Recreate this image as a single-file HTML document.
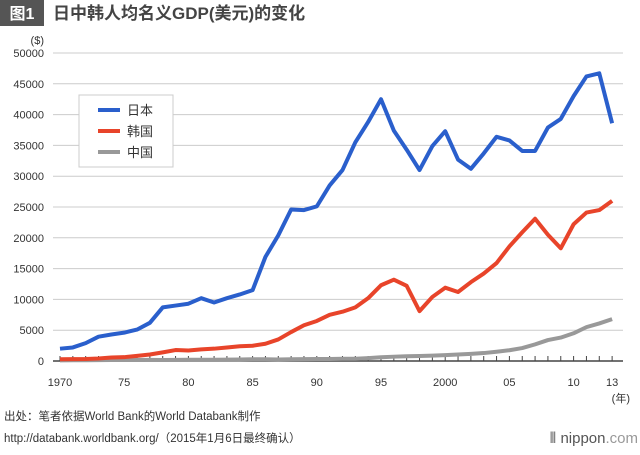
<!DOCTYPE html>
<html><head><meta charset="utf-8"><style>
body{margin:0;background:#fff;}
svg text{font-family:"Liberation Sans","Noto Sans CJK SC",sans-serif;}
</style></head><body>
<svg width="640" height="450" xmlns="http://www.w3.org/2000/svg">
<rect x="0" y="0" width="44" height="26" fill="#555"/>
<text x="22" y="19" font-size="16" fill="#fff" text-anchor="middle" font-weight="bold">图1</text>
<text x="53" y="19" font-size="17" fill="#444" font-weight="bold">日中韩人均名义GDP(美元)的变化</text>
<text x="44" y="44" font-size="11" fill="#333" text-anchor="end">($)</text>
<g id="grid"></g><g id="series"></g>
<rect x="79" y="95" width="94" height="72" fill="#fff" stroke="#ccc"/>
<line x1="98" y1="110" x2="120" y2="110" stroke="#2a5fcc" stroke-width="4"/>
<text x="127" y="115" font-size="13" fill="#333">日本</text>
<line x1="98" y1="131" x2="120" y2="131" stroke="#e8442a" stroke-width="4"/>
<text x="127" y="136" font-size="13" fill="#333">韩国</text>
<line x1="98" y1="152" x2="120" y2="152" stroke="#999" stroke-width="4"/>
<text x="127" y="157" font-size="13" fill="#333">中国</text>
<text x="630" y="402" font-size="11" fill="#333" text-anchor="end">(年)</text>
<text x="4" y="420" font-size="11.5" fill="#333">出处：笔者依据World Bank的World Databank制作</text>
<text x="4" y="442" font-size="11.5" fill="#333">http://databank.worldbank.org/（2015年1月6日最终确认）</text>
<text x="638" y="443" font-size="15" fill="#555" text-anchor="end">⦀ nippon<tspan fill="#999">.com</tspan></text>
</svg>
<script>
const years=[];for(let y=1970;y<=2013;y++)years.push(y);
const japan=[2000,2200,2900,3950,4300,4600,5100,6200,8700,9000,9300,10200,9500,10200,10800,11500,16900,20400,24600,24500,25100,28500,31000,35500,38800,42500,37400,34300,31000,34900,37300,32700,31200,33700,36400,35800,34100,34100,37900,39300,43000,46200,46700,38600];
const korea=[280,300,320,400,560,620,830,1050,1400,1780,1700,1880,2000,2200,2400,2480,2800,3500,4700,5800,6500,7500,8000,8700,10200,12300,13200,12200,8100,10400,11900,11200,12800,14200,15900,18600,20900,23100,20500,18300,22200,24100,24500,26000];
const china=[110,120,130,150,160,170,160,180,160,180,200,200,210,220,250,290,280,250,280,310,320,330,360,370,470,600,700,780,820,870,950,1050,1150,1290,1500,1750,2100,2700,3400,3800,4500,5500,6100,6800];
const yTicks=[0,5000,10000,15000,20000,25000,30000,35000,40000,45000,50000];
const xLabels=[[1970,"1970"],[1975,"75"],[1980,"80"],[1985,"85"],[1990,"90"],[1995,"95"],[2000,"2000"],[2005,"05"],[2010,"10"],[2013,"13"]];
const NS="http://www.w3.org/2000/svg";
const xs=y=>60+(y-1970)*12.84;
const ys=v=>361-v*308/50000;
const g=document.getElementById('grid'),s=document.getElementById('series');
function mk(tag,at,p){const e=document.createElementNS(NS,tag);for(const k in at)e.setAttribute(k,at[k]);p.appendChild(e);return e;}
yTicks.forEach(v=>{
  const l=mk('line',{x1:53,x2:623,y1:ys(v),y2:ys(v),stroke:v===0?'#444':'#ccc','stroke-width':v===0?1.5:1},g);
  
  
  const t=mk('text',{x:44,y:ys(v)+4,'font-size':11,fill:'#333','text-anchor':'end'},g);t.textContent=v;
  
  
});
years.forEach(y=>{
  const l=mk('line',{x1:xs(y),x2:xs(y),y1:356,y2:361,stroke:'#444'},g);
  
  
});
xLabels.forEach(([y,lab])=>{
  const t=mk('text',{x:xs(y),y:386,'font-size':11,fill:'#333','text-anchor':'middle'},g);t.textContent=lab;
  
  
});
[[china,'#999','china'],[korea,'#e8442a','korea'],[japan,'#2a5fcc','japan']].forEach(([d,c,n])=>{
  const p=mk('polyline',{points:d.map((v,i)=>xs(years[i])+','+ys(v)).join(' '),fill:'none',stroke:c,'stroke-width':4,'stroke-linejoin':'round'},s);
  
  
});
</script>
</body></html>
